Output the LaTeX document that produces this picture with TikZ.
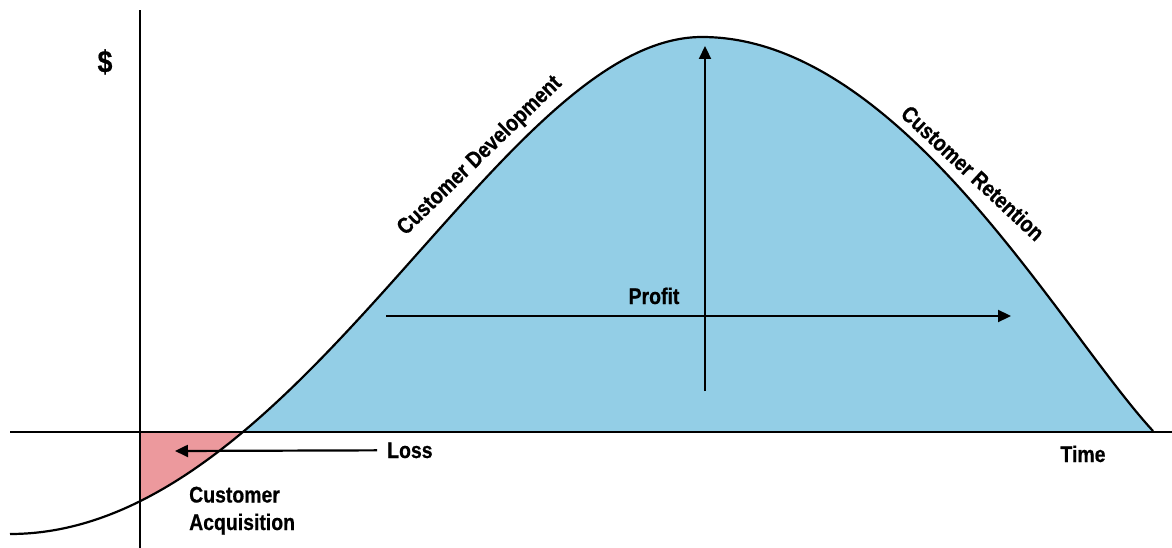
\documentclass[tikz,border=0pt]{standalone}
\usepackage{fontspec}
\usetikzlibrary{arrows.meta}
\newfontfamily\cond{Liberation Sans}[FakeStretch=0.86,FakeBold=0.6]
\definecolor{profitblue}{RGB}{147,206,230}
\definecolor{losspink}{RGB}{236,153,157}
\tikzset{
  lbl/.style={font=\cond\bfseries\fontsize{22.6}{27.5}\selectfont, inner sep=0pt},
  axisline/.style={line width=2.5pt},
  curveline/.style={line width=2.2pt},
  arr/.style={line width=2.2pt, -{Triangle[length=13pt,width=12pt]}},
}
\begin{document}
\begin{tikzpicture}[x=1pt,y=-1pt]
\useasboundingbox (0,0) rectangle (1172,548);
% blue profit area
\begin{scope}
\clip (0,0) rectangle (1172,432);
\fill[profitblue] (10,534) .. controls (300,534) and (500,37) .. (702,37) .. controls (900,37) and (1060,330) .. (1153,431) -- (1153,445) -- (10,545) -- cycle;
\end{scope}
% pink loss area
\begin{scope}
\clip (10,300) -- (10,534) .. controls (300,534) and (500,37) .. (702,37) .. controls (900,37) and (1060,330) .. (1153,431) -- (1172,300) -- cycle;
\fill[losspink] (140,432) rectangle (260,548);
\end{scope}
% axes
\coordinate (yaxB) at (140,548);
\coordinate (yaxT) at (140,10);
\coordinate (xaxL) at (10,432);
\coordinate (xaxR) at (1172,432);
\draw[axisline] (yaxB) -- (yaxT);
\draw[axisline] (xaxL) -- (xaxR);
% curve
\draw[curveline] (10,534) .. controls (300,534) and (500,37) .. (702,37) .. controls (900,37) and (1060,330) .. (1153,431);
% arrows
\coordinate (vB) at (705,391);
\coordinate (vT) at (705,46);
\coordinate (hL) at (386,316);
\coordinate (hR) at (1011,316);
\coordinate (lossTip) at (175,451);
\draw[arr] (vB) -- (vT);
\draw[arr] (hL) -- (hR);
% labels
\node[lbl, font=\cond\bfseries\fontsize{31}{31}\selectfont] (dollar) at (105,62) {\$};
\node[lbl, rotate=44] (dev) at (480,156) {Customer Development};
\node[lbl, rotate=-43] (ret) at (973,173) {Customer Retention};
\node[lbl, anchor=base] (profit) at (654,304) {Profit};
\node[lbl, anchor=base west] (loss) at (387,458) {Loss};
\node[lbl, anchor=base] (time) at (1083,462) {Time};
\node[lbl, anchor=base west, align=left] (acq) at (189,530) {Customer\\Acquisition};
\draw[arr] (loss.west) ++(-10pt,0) coordinate (lossTail) (lossTail) -- (lossTip);
\end{tikzpicture}
\end{document}
